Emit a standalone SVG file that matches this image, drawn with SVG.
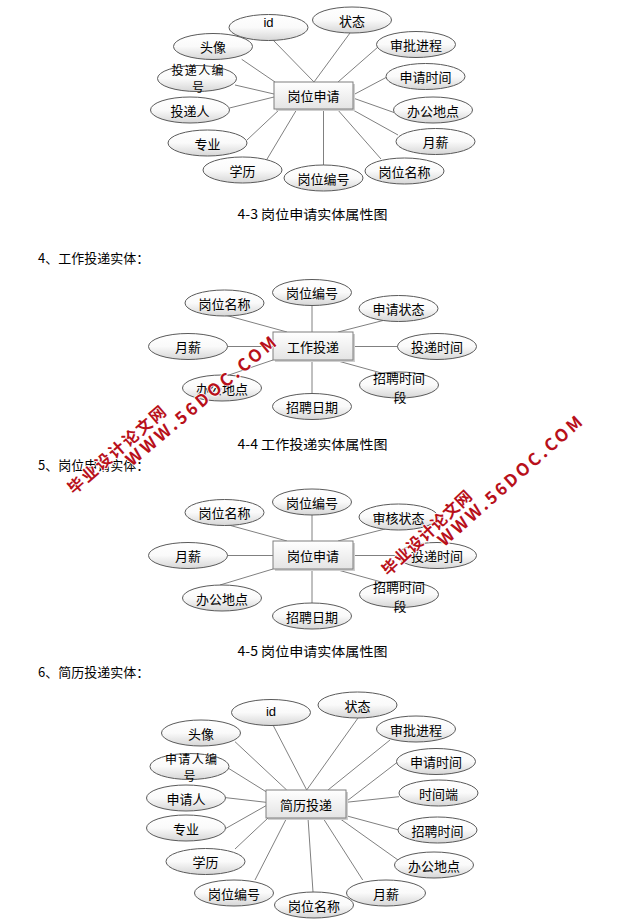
<svg xmlns="http://www.w3.org/2000/svg" width="643" height="924" viewBox="0 0 643 924">
<defs>
<linearGradient id="eg" x1="0" y1="0" x2="0" y2="1">
<stop offset="0" stop-color="#ffffff"/>
<stop offset="0.5" stop-color="#fafafa"/>
<stop offset="1" stop-color="#d6d6d6"/>
</linearGradient>
<linearGradient id="rg" x1="0" y1="0" x2="0" y2="1">
<stop offset="0" stop-color="#ffffff"/>
<stop offset="1" stop-color="#e4e4e4"/>
</linearGradient>
</defs>
<style>
.bg{fill:#ffffff}
.e{fill:url(#eg);stroke:#5a5a5a;stroke-width:1}
.r{fill:url(#rg);stroke:#7f7f7f;stroke-width:1}
.sh{fill:#cfcfcf}
.c line{stroke:#808080;stroke-width:1}
text{font-family:"Noto Sans CJK SC","Liberation Sans",sans-serif;fill:#000}
.t{font-size:13px;text-anchor:middle;dominant-baseline:central}
.t2{font-size:12px}
.id{font-family:"Liberation Sans",sans-serif;font-size:13px}
.h{font-size:13px;dominant-baseline:central}
.cap{font-size:13px;text-anchor:middle;dominant-baseline:central}
.wm{font-weight:bold;fill:#b8101a;stroke:#ffffff;stroke-width:1.5;paint-order:stroke;text-anchor:middle;dominant-baseline:central}
</style>
<rect class="bg" x="0" y="0" width="643" height="924"/>

<!-- Diagram 1 connectors -->
<g id="connectors1" class="c">
<line x1="241.7" y1="59.3" x2="275" y2="82"/>
<line x1="235" y1="85" x2="274" y2="94"/>
<line x1="229.5" y1="108" x2="274" y2="97"/>
<line x1="247" y1="140" x2="280" y2="109"/>
<line x1="266.5" y1="160" x2="297" y2="109"/>
<line x1="323.5" y1="165" x2="323.5" y2="109"/>
<line x1="381" y1="159" x2="337" y2="109"/>
<line x1="398" y1="135" x2="353" y2="110"/>
<line x1="394" y1="112.5" x2="353" y2="98"/>
<line x1="386" y1="77.5" x2="353" y2="95"/>
<line x1="378" y1="47" x2="338" y2="82"/>
<line x1="350" y1="33" x2="314" y2="82"/>
<line x1="273" y1="40" x2="314" y2="82"/>
</g>
<g id="d1-main"><rect class="sh" x="276" y="84" width="79" height="27"/><rect class="r" x="274" y="82" width="79" height="27"/><text class="t" x="313.5" y="95.5">岗位申请</text></g>
<g id="d1-id"><ellipse class="e" cx="268.5" cy="27.5" rx="39.5" ry="13"/><text class="t id" x="268.5" y="22.5">id</text></g>
<g id="d1-status"><ellipse class="e" cx="352" cy="20" rx="39.5" ry="13"/><text class="t" x="352" y="20">状态</text></g>
<g id="d1-approval"><ellipse class="e" cx="416" cy="44.5" rx="39.5" ry="13"/><text class="t" x="416" y="44.5">审批进程</text></g>
<g id="d1-applytime"><ellipse class="e" cx="425.5" cy="76.5" rx="39.5" ry="13"/><text class="t" x="425.5" y="76.5">申请时间</text></g>
<g id="d1-office"><ellipse class="e" cx="433" cy="110" rx="39.5" ry="13"/><text class="t" x="433" y="110">办公地点</text></g>
<g id="d1-salary"><ellipse class="e" cx="435.5" cy="141.5" rx="39.5" ry="13"/><text class="t" x="435.5" y="141.5">月薪</text></g>
<g id="d1-jobname"><ellipse class="e" cx="404.5" cy="171" rx="39.5" ry="13"/><text class="t" x="404.5" y="171">岗位名称</text></g>
<g id="d1-jobno"><ellipse class="e" cx="323.5" cy="178" rx="39.5" ry="13"/><text class="t" x="323.5" y="178">岗位编号</text></g>
<g id="d1-edu"><ellipse class="e" cx="242.5" cy="170" rx="39.5" ry="13"/><text class="t" x="242.5" y="170">学历</text></g>
<g id="d1-major"><ellipse class="e" cx="207.5" cy="143" rx="39.5" ry="13"/><text class="t" x="207.5" y="143">专业</text></g>
<g id="d1-sender"><ellipse class="e" cx="190" cy="110" rx="39.5" ry="13"/><text class="t" x="190" y="110">投递人</text></g>
<g id="d1-senderno"><ellipse class="e" cx="197" cy="78.5" rx="39.5" ry="13"/><text class="t t2" x="197.5" y="69" textLength="52">投递人编</text><text class="t t2" x="198" y="86.5">号</text></g>
<g id="d1-avatar"><ellipse class="e" cx="213" cy="46.5" rx="39.5" ry="13"/><text class="t" x="213" y="46.5">头像</text></g>

<text class="cap" x="312.5" y="213" textLength="150" lengthAdjust="spacingAndGlyphs">4-3 岗位申请实体属性图</text>
<text class="h" x="38" y="257">4、工作投递实体：</text>

<!-- Diagram 2 -->
<g id="connectors2" class="c">
<line x1="312" y1="305" x2="312" y2="332"/>
<line x1="225" y1="315" x2="287" y2="332"/>
<line x1="385" y1="320" x2="338" y2="332"/>
<line x1="227" y1="346.5" x2="273" y2="346.5"/>
<line x1="353" y1="346.5" x2="398" y2="346.5"/>
<line x1="273" y1="360" x2="226" y2="376"/>
<line x1="312" y1="360" x2="312" y2="394"/>
<line x1="338" y1="361" x2="385" y2="374"/>
</g>
<g id="d2-main"><rect class="sh" x="275" y="334" width="80" height="28"/><rect class="r" x="273" y="332" width="80" height="28"/><text class="t" x="313" y="346">工作投递</text></g>
<g id="d2-jobno"><ellipse class="e" cx="312" cy="292.5" rx="39.5" ry="13"/><text class="t" x="312" y="292.5">岗位编号</text></g>
<g id="d2-jobname"><ellipse class="e" cx="224.5" cy="303" rx="39.5" ry="13"/><text class="t" x="224.5" y="303">岗位名称</text></g>
<g id="d2-state"><ellipse class="e" cx="398.5" cy="308.5" rx="39.5" ry="13"/><text class="t" x="398.5" y="308.5">申请状态</text></g>
<g id="d2-salary"><ellipse class="e" cx="188" cy="346.5" rx="39.5" ry="13"/><text class="t" x="188" y="346.5">月薪</text></g>
<g id="d2-sendtime"><ellipse class="e" cx="437" cy="346.5" rx="39.5" ry="13"/><text class="t" x="437" y="346.5">投递时间</text></g>
<g id="d2-office"><ellipse class="e" cx="222" cy="388" rx="39.5" ry="13"/><text class="t" x="222" y="388">办公地点</text></g>
<g id="d2-recruitdate"><ellipse class="e" cx="312" cy="406.5" rx="39.5" ry="13"/><text class="t" x="312" y="406.5">招聘日期</text></g>
<g id="d2-period"><ellipse class="e" cx="399" cy="385" rx="39.5" ry="13"/><text class="t" x="399" y="377">招聘时间</text><text class="t" x="400" y="396.5">段</text></g>

<text class="cap" x="312.5" y="443" textLength="150" lengthAdjust="spacingAndGlyphs">4-4 工作投递实体属性图</text>
<text class="h" x="38" y="464">5、岗位申请实体：</text>

<!-- Diagram 3 -->
<g id="connectors3" class="c">
<line x1="312" y1="514" x2="312" y2="541"/>
<line x1="225" y1="524" x2="287" y2="541"/>
<line x1="385" y1="529" x2="338" y2="541"/>
<line x1="227" y1="555.5" x2="273" y2="555.5"/>
<line x1="353" y1="555.5" x2="398" y2="555.5"/>
<line x1="273" y1="569" x2="220" y2="585"/>
<line x1="312" y1="569" x2="312" y2="603"/>
<line x1="338" y1="570" x2="385" y2="583"/>
</g>
<g id="d3-main"><rect class="sh" x="275" y="543" width="80" height="28"/><rect class="r" x="273" y="541" width="80" height="28"/><text class="t" x="313" y="555">岗位申请</text></g>
<g id="d3-jobno"><ellipse class="e" cx="312" cy="502" rx="39.5" ry="13"/><text class="t" x="312" y="502">岗位编号</text></g>
<g id="d3-jobname"><ellipse class="e" cx="224.5" cy="512.5" rx="39.5" ry="13"/><text class="t" x="224.5" y="512.5">岗位名称</text></g>
<g id="d3-state"><ellipse class="e" cx="398.5" cy="517" rx="39.5" ry="13"/><text class="t" x="398.5" y="517">审核状态</text></g>
<g id="d3-salary"><ellipse class="e" cx="188" cy="555.5" rx="39.5" ry="13"/><text class="t" x="188" y="555.5">月薪</text></g>
<g id="d3-sendtime"><ellipse class="e" cx="437" cy="555.5" rx="39.5" ry="13"/><text class="t" x="437" y="555.5">投递时间</text></g>
<g id="d3-office"><ellipse class="e" cx="222" cy="598" rx="39.5" ry="13"/><text class="t" x="222" y="598">办公地点</text></g>
<g id="d3-recruitdate"><ellipse class="e" cx="312" cy="616" rx="39.5" ry="13"/><text class="t" x="312" y="616">招聘日期</text></g>
<g id="d3-period"><ellipse class="e" cx="399" cy="594.5" rx="39.5" ry="13"/><text class="t" x="399" y="586">招聘时间</text><text class="t" x="400" y="605.5">段</text></g>

<text class="cap" x="312.5" y="650" textLength="150" lengthAdjust="spacingAndGlyphs">4-5 岗位申请实体属性图</text>
<text class="h" x="38" y="671">6、简历投递实体：</text>

<!-- Diagram 4 -->
<g id="connectors4" class="c">
<line x1="235" y1="741.7" x2="286.7" y2="790"/>
<line x1="228" y1="768" x2="266" y2="791.7"/>
<line x1="226" y1="797.7" x2="266" y2="802.3"/>
<line x1="226" y1="828.3" x2="266" y2="805.7"/>
<line x1="235" y1="849" x2="268" y2="818"/>
<line x1="255" y1="880" x2="286.7" y2="818"/>
<line x1="313" y1="892" x2="308" y2="818"/>
<line x1="362.7" y1="880" x2="323" y2="818"/>
<line x1="398" y1="860" x2="339" y2="818"/>
<line x1="399" y1="830" x2="346" y2="815.7"/>
<line x1="399" y1="796.7" x2="346" y2="802.3"/>
<line x1="398" y1="761.7" x2="346" y2="801.7"/>
<line x1="390" y1="740" x2="328" y2="790"/>
<line x1="358" y1="718" x2="306.7" y2="790"/>
<line x1="273" y1="725" x2="306.7" y2="790"/>
</g>
<g id="d4-main"><rect class="sh" x="268" y="792" width="80" height="28"/><rect class="r" x="266" y="790" width="80" height="28"/><text class="t" x="306" y="804">简历投递</text></g>
<g id="d4-id"><ellipse class="e" cx="271" cy="712.5" rx="39.5" ry="13"/><text class="t id" x="271" y="711">id</text></g>
<g id="d4-status"><ellipse class="e" cx="357.5" cy="705" rx="39.5" ry="13"/><text class="t" x="357.5" y="705">状态</text></g>
<g id="d4-approval"><ellipse class="e" cx="416" cy="729" rx="39.5" ry="13"/><text class="t" x="416" y="729">审批进程</text></g>
<g id="d4-applytime"><ellipse class="e" cx="436" cy="761.5" rx="39.5" ry="13"/><text class="t" x="436" y="761.5">申请时间</text></g>
<g id="d4-timeend"><ellipse class="e" cx="438.5" cy="793" rx="39.5" ry="13"/><text class="t" x="438.5" y="793">时间端</text></g>
<g id="d4-recruittime"><ellipse class="e" cx="437.5" cy="830" rx="39.5" ry="13"/><text class="t" x="437.5" y="830">招聘时间</text></g>
<g id="d4-office"><ellipse class="e" cx="434" cy="865" rx="39.5" ry="13"/><text class="t" x="434" y="865">办公地点</text></g>
<g id="d4-salary"><ellipse class="e" cx="386" cy="893" rx="39.5" ry="13"/><text class="t" x="386" y="893">月薪</text></g>
<g id="d4-jobname"><ellipse class="e" cx="314" cy="905" rx="39.5" ry="13"/><text class="t" x="314" y="905">岗位名称</text></g>
<g id="d4-jobno"><ellipse class="e" cx="234" cy="893" rx="39.5" ry="13"/><text class="t" x="234" y="893">岗位编号</text></g>
<g id="d4-edu"><ellipse class="e" cx="205.5" cy="861.5" rx="39.5" ry="13"/><text class="t" x="205.5" y="861.5">学历</text></g>
<g id="d4-major"><ellipse class="e" cx="186" cy="828" rx="39.5" ry="13"/><text class="t" x="186" y="828">专业</text></g>
<g id="d4-applicant"><ellipse class="e" cx="186" cy="798" rx="39.5" ry="13"/><text class="t" x="186" y="798">申请人</text></g>
<g id="d4-applicantno"><ellipse class="e" cx="189.5" cy="766.5" rx="39.5" ry="13"/><text class="t t2" x="191" y="758" textLength="52">申请人编</text><text class="t t2" x="189.5" y="775.5">号</text></g>
<g id="d4-avatar"><ellipse class="e" cx="201" cy="733" rx="39.5" ry="13"/><text class="t" x="201" y="733">头像</text></g>

<!-- watermarks -->
<g id="watermarks">
<text class="wm" font-size="16" transform="translate(116,449) rotate(-41)" textLength="124">毕业设计论文网</text>
<text class="wm" font-size="17" font-family="Liberation Sans, sans-serif" transform="translate(200,400) rotate(-40)" textLength="190">WWW.56DOC.COM</text>
<text class="wm" font-size="16" transform="translate(426,532) rotate(-43)" textLength="116">毕业设计论文网</text>
<text class="wm" font-size="17" font-family="Liberation Sans, sans-serif" transform="translate(509,480) rotate(-41.5)" textLength="186">WWW.56DOC.COM</text>
</g>
</svg>
